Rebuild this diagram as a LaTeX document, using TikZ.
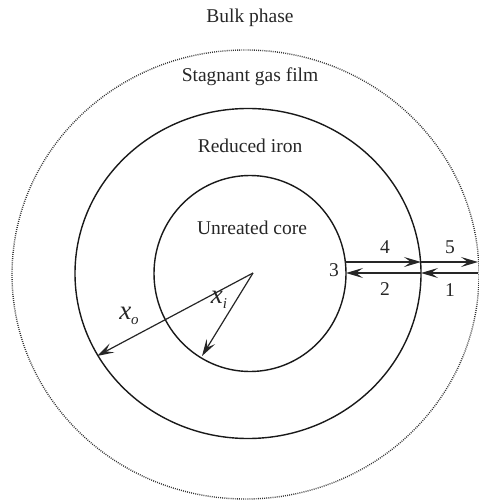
\documentclass[tikz,border=0pt]{standalone}
\usepackage{fontspec}
\setmainfont{Liberation Serif}
\usetikzlibrary{arrows.meta}
\begin{document}
\begin{tikzpicture}[x=1pt,y=-1pt,
  lbl/.style={font=\fontsize{19.5}{21}\selectfont, inner sep=0pt, text=black!85},
  var/.style={font=\fontsize{27}{28}\selectfont\itshape, inner sep=0pt, text=black!85},
  solidring/.style={draw=black!90, line width=1.4pt},
  dotring/.style={draw=black!80, line width=1.4pt, dash pattern=on 0.9pt off 1.2pt},
  flow/.style={draw=black!85, line width=1.4pt, -{Stealth[length=17pt,width=10pt,inset=7pt]}},
  rad/.style={draw=black!85, line width=1.2pt, -{Stealth[length=17pt,width=10pt,inset=7pt]}}
]
\useasboundingbox (0,0) rectangle (478,502);
% rings
\draw[dotring] (245.5,274.5) ellipse [x radius=233.5, y radius=224.5];
\draw[solidring] (248,273.5) ellipse [x radius=173, y radius=165];
\draw[solidring] (250,273.5) ellipse [x radius=96, y radius=98];
% region labels
\node[lbl] (bulk) at (250,18) {Bulk phase};
\node[lbl] (film) at (250,77) {Stagnant gas film};
\node[lbl] (iron) at (250,146) {Reduced iron};
\node[lbl] (core) at (252,228) {Unreated core};
% radii
\coordinate (c) at (253,273);
\coordinate (po) at (97,356);
\coordinate (pi) at (202,356);
\draw[rad] (c) -- (po);
\draw[rad] (c) -- (pi);
\node[var] (xo) at (129,316) {x\raisebox{-5pt}{\fontsize{15}{16}\selectfont o}};
\node[var] (xi) at (219,300) {x\raisebox{-5pt}{\fontsize{15}{16}\selectfont i}};
% flux arrows
\coordinate (a1) at (345,262);
\coordinate (a2) at (421,262);
\coordinate (a3) at (478,262);
\coordinate (b1) at (478,273);
\coordinate (b2) at (421,273);
\coordinate (b3) at (346,273);
\draw[flow] (a1) -- (a2);
\draw[flow] (a2) -- (a3);
\draw[flow] (b1) -- (b2);
\draw[flow] (b2) -- (b3);
\node[lbl] (n4) at (385,247) {4};
\node[lbl] (n5) at (450,247) {5};
\node[lbl] (n3) at (334,270) {3};
\node[lbl] (n2) at (385,289) {2};
\node[lbl] (n1) at (450,290) {1};
\end{tikzpicture}
\end{document}
